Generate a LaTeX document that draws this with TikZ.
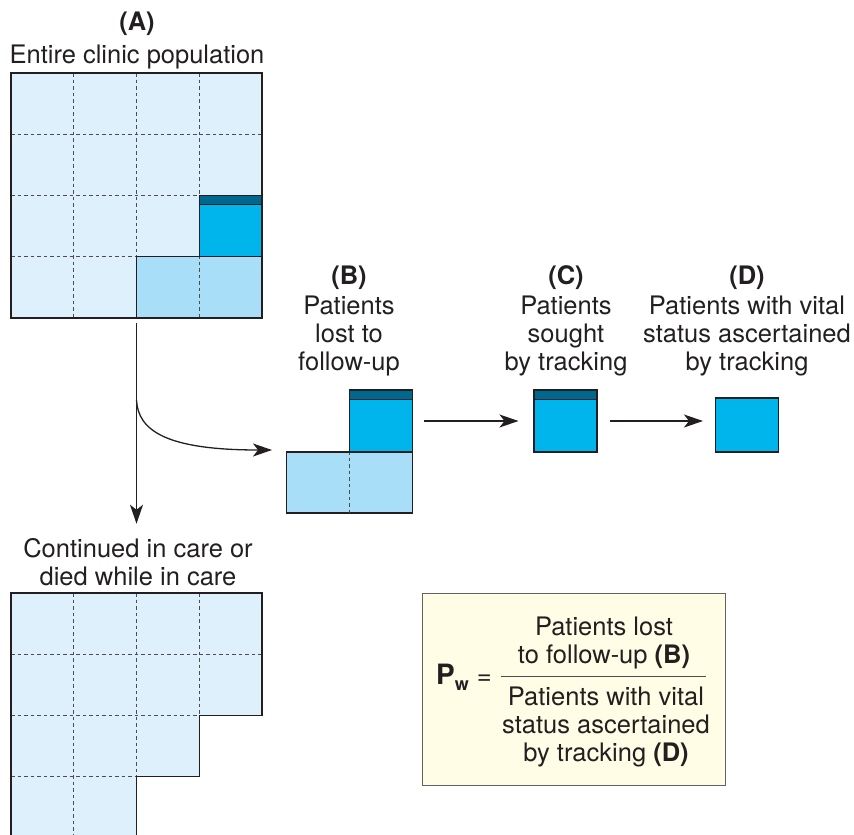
\documentclass[tikz,border=0pt]{standalone}
\usepackage{fontspec}
\setmainfont{TeX Gyre Heros}
\usetikzlibrary{arrows.meta,positioning,calc}

\definecolor{cellpale}{RGB}{222,240,251}
\definecolor{celllost}{RGB}{168,222,247}
\definecolor{celltrack}{RGB}{0,181,236}
\definecolor{cellstripe}{RGB}{0,103,143}
\definecolor{boxfill}{RGB}{255,253,230}
\definecolor{inkgray}{RGB}{35,31,32}

\tikzset{
    outline/.style={draw=inkgray, line width=1.3pt, line join=miter},
    gridline/.style={draw=inkgray!80, dash pattern=on 3.5pt off 3pt, line width=0.8pt},
    arr/.style={-{Stealth[length=19pt,width=13pt,inset=5pt]}, draw=inkgray, line width=1.3pt},
    lbl/.style={align=center, font=\fontsize{25.5}{28}\selectfont, text=inkgray, inner sep=0pt},
    cellbox/.style={outline, inner sep=0pt, minimum width=62.75pt, minimum height=61.25pt},
    striped/.style={path picture={
        \fill[cellstripe] (path picture bounding box.north west) rectangle ([yshift=-9pt]path picture bounding box.north east);
        \draw[inkgray, line width=1pt] ([yshift=-9pt]path picture bounding box.north west) -- ([yshift=-9pt]path picture bounding box.north east);
    }},
}

\begin{document}
\begin{tikzpicture}[x=1pt, y=-1pt]
    \useasboundingbox (0,0) rectangle (854,835);

    % (A) entire population
    \node[lbl, anchor=base] (aLbl) at (137,63) {\textbf{(A)}\\[5pt]Entire clinic population};
    \begin{scope}[shift={(11,73)}]
        \fill[cellpale] (0,0) rectangle (251,245);
        \fill[celllost] (125.5,183.75) rectangle (251,245);
        \fill[celltrack] (188.25,122.5) rectangle (251,183.75);
        \foreach \i in {1,2,3} {
            \draw[gridline] (\i*62.75,0) -- (\i*62.75,245);
            \draw[gridline] (0,\i*61.25) -- (251,\i*61.25);
        }
        \fill[cellstripe] (188.25,122.5) rectangle (251,131.5);
        \draw[inkgray, line width=1pt] (188.25,131.5) -- (251,131.5);
        \draw[outline] (125.5,245) -- (125.5,183.75) -- (251,183.75);
        \draw[outline] (188.25,183.75) -- (188.25,122.5) -- (251,122.5);
        \draw[outline] (0,0) rectangle (251,245);
        \coordinate (aSplit) at (125.5,245);
    \end{scope}

    % (B) lost to follow-up
    \node[lbl, anchor=base] (bLbl) at (349,370) {\textbf{(B)}\\[2pt]Patients\\lost to\\follow-up};
    \node[cellbox, fill=celllost, minimum width=125.5pt] (bLow) at (349.5,482.5) {};
    \draw[gridline] (bLow.north) -- (bLow.south);
    \node[cellbox, fill=celltrack, striped, minimum height=62pt] (bTop) at (380.9,421) {};

    % (C) sought by tracking
    \node[lbl, anchor=base] (cLbl) at (566,370) {\textbf{(C)}\\[2pt]Patients\\sought\\by tracking};
    \node[cellbox, fill=celltrack, striped, minimum height=62pt] (cCell) at (565.5,421) {};

    % (D) vital status ascertained
    \node[lbl, anchor=base] (dLbl) at (747,370) {\textbf{(D)}\\[2pt]Patients with vital\\status ascertained\\by tracking};
    \node[cellbox, fill=celltrack, minimum height=54pt] (dCell) at (747,425) {};

    % Continued in care
    \node[lbl, anchor=base] (contLbl) at (138,585) {Continued in care or\\died while in care};
    \begin{scope}[shift={(11,593)}]
        \fill[cellpale] (0,0) -- (251,0) -- (251,122.5) -- (188.25,122.5) -- (188.25,183.75)
            -- (125.5,183.75) -- (125.5,243) -- (0,243) -- cycle;
        \draw[gridline] (62.75,0) -- (62.75,243);
        \draw[gridline] (125.5,0) -- (125.5,183.75);
        \draw[gridline] (188.25,0) -- (188.25,122.5);
        \draw[gridline] (0,61.25) -- (251,61.25);
        \draw[gridline] (0,122.5) -- (188.25,122.5);
        \draw[gridline] (0,183.75) -- (125.5,183.75);
        \draw[outline] (0,243) -- (0,0) -- (251,0) -- (251,122.5) -- (188.25,122.5)
            -- (188.25,183.75) -- (125.5,183.75) -- (125.5,243);
    \end{scope}

    % Arrows
    \coordinate (bIn) at (272,450);
    \draw[arr, shorten <=5pt, shorten >=14pt] (aSplit) -- (aSplit |- contLbl.north);
    \draw[arr] (136.5,400) .. controls (138,430) and (165,450) .. (bIn);
    \draw[arr, shorten <=11pt, shorten >=15pt] (bTop.east) -- (cCell.west);
    \draw[arr, shorten <=12pt, shorten >=12pt] (cCell.east) -- (cCell.east -| dCell.west);

    % Formula
    \draw[draw=inkgray!70, line width=1pt, fill=boxfill] (422,593) rectangle (725,785);
    \node[lbl, anchor=base west] (pwLbl) at (436,684) {{\fontsize{28}{28}\selectfont\textbf{P}}\raisebox{-6pt}{\fontsize{18}{18}\selectfont\textbf{w}}\hspace{8pt}=};
    \node[lbl, anchor=base] (numLbl) at (604,663) {Patients lost\\to follow-up \textbf{(B)}};
    \node[lbl, anchor=base] (denLbl) at (606,761) {Patients with vital\\status ascertained\\by tracking \textbf{(D)}};
    \draw[inkgray!80, line width=0.9pt] (501,676) -- (706,676);
\end{tikzpicture}
\end{document}
